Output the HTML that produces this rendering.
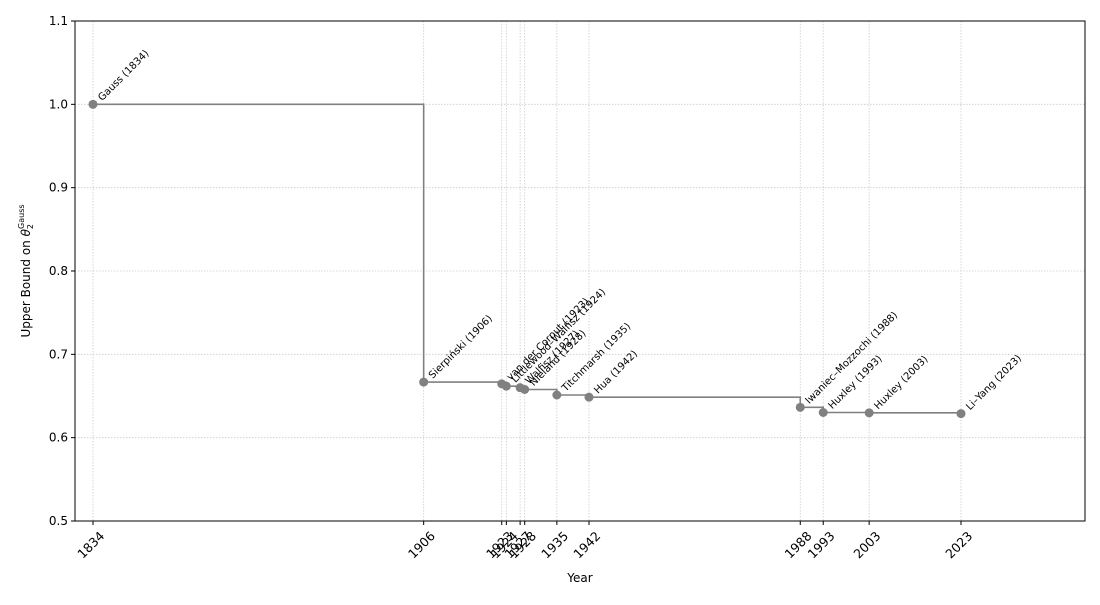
<!DOCTYPE html>
<html><head><meta charset="utf-8"><style>
body{margin:0;background:#fff;}
svg{font-family:"DejaVu Sans","Liberation Sans",sans-serif;}
</style></head><body>
<svg id="chart" width="1100" height="600" viewBox="0 0 1100 600" xmlns="http://www.w3.org/2000/svg">
<rect width="1100" height="600" fill="#fff"/>
<g id="grid"></g>
<g id="series"></g>
<g id="labels"></g>
<rect x="75" y="21" width="1010" height="500" fill="none" stroke="#000" stroke-width="1"/>
<g id="axes"></g>
<text x="580" y="582" font-size="12" text-anchor="middle">Year</text>
<text transform="translate(30,271) rotate(-90)" font-size="12" text-anchor="middle">Upper Bound on <tspan font-style="italic">θ</tspan><tspan font-size="8" dy="3">2</tspan><tspan font-size="8" dy="-9" dx="-5">Gauss</tspan></text>
</svg>
<script>
const years=[1834,1906,1923,1924,1927,1928,1935,1942,1988,1993,2003,2023];
const bounds=[1.0,0.6667,0.6646,0.6618,0.66,0.6578,0.6512,0.6486,0.6364,0.6302,0.6298,0.6289];
const names=["Gauss (1834)","Sierpiński (1906)","van der Corput (1923)","Littlewood–Walfisz (1924)","Walfisz (1927)","Nieland (1928)","Titchmarsh (1935)","Hua (1942)","Iwaniec–Mozzochi (1988)","Huxley (1993)","Huxley (2003)","Li–Yang (2023)"];
const yTicks=[0.5,0.6,0.7,0.8,0.9,1.0,1.1];
const yTickLabels=["0.5","0.6","0.7","0.8","0.9","1.0","1.1"];
const NS="http://www.w3.org/2000/svg";
const L=75,R=1085,T=21,B=521,x0=1830.08,x1=2050.0,y0=0.5,y1=1.1;
const X=v=>L+(v-x0)/(x1-x0)*(R-L);
const Y=v=>B-(v-y0)/(y1-y0)*(B-T);
function mk(tag,attrs,parent){const e=document.createElementNS(NS,tag);for(const k in attrs)e.setAttribute(k,attrs[k]);parent.appendChild(e);return e;}
const grid=document.getElementById('grid'),axes=document.getElementById('axes'),series=document.getElementById('series'),labels=document.getElementById('labels');
years.forEach(yr=>{const e=mk('line',{x1:X(yr),x2:X(yr),y1:T,y2:B,stroke:'#ccc','stroke-width':0.8,'stroke-dasharray':'1.5,1.5'},grid);

});
yTicks.forEach(v=>{const e=mk('line',{x1:L,x2:R,y1:Y(v),y2:Y(v),stroke:'#ccc','stroke-width':0.8,'stroke-dasharray':'1.5,1.5'},grid);

});
yTicks.forEach((v,i)=>{const t=mk('line',{x1:L-4,x2:L,y1:Y(v),y2:Y(v),stroke:'#000'},axes);


const s=mk('text',{x:L-7,y:Y(v)+4,'font-size':12,'text-anchor':'end'},axes);s.textContent=yTickLabels[i];

});
years.forEach(yr=>{const t=mk('line',{x1:X(yr),x2:X(yr),y1:B,y2:B+4,stroke:'#000'},axes);


const s=mk('text',{transform:`translate(${X(yr)+1},${B+27}) rotate(-45)`,'font-size':12.5,'text-anchor':'middle'},axes);s.textContent=String(yr);

});
let d=`M${X(years[0])},${Y(bounds[0])}`;
for(let i=1;i<years.length;i++){d+=` H${X(years[i])} V${Y(bounds[i])}`;}
const p=mk('path',{d:d,fill:'none',stroke:'#808080','stroke-width':1.6},series);


years.forEach((yr,i)=>{const c=mk('circle',{cx:X(yr),cy:Y(bounds[i]),r:4.5,fill:'#808080'},series);


const s=mk('text',{transform:`translate(${X(yr)+9},${Y(bounds[i])-3}) rotate(-45)`,'font-size':10},labels);s.textContent=names[i];

});
</script>
</body></html>
